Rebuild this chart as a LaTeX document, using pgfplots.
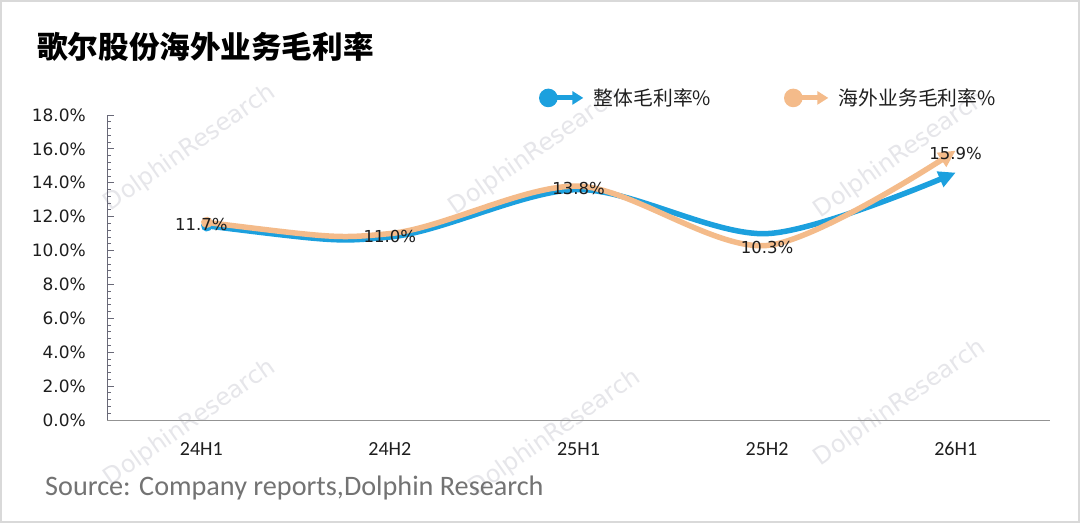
\documentclass[border=0pt]{standalone}
\usepackage{fontspec}
\setmainfont{DejaVu Sans}
\newfontfamily\cjk{Noto Sans CJK SC}
\newfontfamily\carlito{Carlito}
\usepackage{pgfplots}
\pgfplotsset{compat=1.18}
\usetikzlibrary{arrows.meta}
\definecolor{cblue}{RGB}{28,160,222}
\definecolor{corange}{RGB}{244,187,138}
\definecolor{wm}{RGB}{230,230,234}
\definecolor{axgray}{RGB}{105,105,120}
\definecolor{txt}{RGB}{30,30,30}
\definecolor{srcgray}{RGB}{115,115,115}
\begin{document}
\begin{tikzpicture}
\path[use as bounding box] (0pt,0pt) rectangle (1080pt,523pt);
\fill[white] (0pt,0pt) rectangle (1080pt,523pt);
\draw[gray!30, line width=2pt] (1pt,1pt) rectangle (1079pt,522pt);
\foreach \x/\y in {190/375, 535/371, 900/368, 190/100, 555/90, 900/120}
  \node[rotate=35, text=wm, font=\fontsize{24}{24}\selectfont] at (\x pt,\y pt) {DolphinResearch};
\node[anchor=west, inner sep=0pt] at (37pt,476pt) {\cjk\bfseries\fontsize{30.6}{32}\selectfont 歌尔股份海外业务毛利率};
\node[anchor=west, inner sep=0pt, text=srcgray] at (45pt,35pt) {\carlito\fontsize{28.2}{30}\selectfont Source: Company reports,Dolphin Research};
\begin{axis}[
  at={(201.3pt,103pt)}, anchor=origin,
  scale only axis, width=943pt, height=305pt,
  xmin=-0.5, xmax=4.5, ymin=0, ymax=18,
  axis lines=left, axis line style={-},
  x axis line style={draw=gray!85, line width=1pt},
  y axis line style={draw=axgray, line width=1pt},
  xtick={0,1,2,3,4}, xticklabels={24H1,24H2,25H1,25H2,26H1},
  x tick style={draw=none},
  ytick={0,2,4,6,8,10,12,14,16,18},
  yticklabels={0.0\%,2.0\%,4.0\%,6.0\%,8.0\%,10.0\%,12.0\%,14.0\%,16.0\%,18.0\%},
  minor y tick num=4,
  tick align=inside,
  y tick style={draw=axgray, line width=0.8pt},
  major tick length=7pt, minor tick length=4pt,
  yticklabel style={font=\fontsize{17}{17}\selectfont, text=txt, anchor=east, inner sep=0pt, xshift=-21pt},
  xticklabel style={font=\carlito\fontsize{20}{20}\selectfont, text=txt, anchor=center, inner sep=0pt, yshift=-29pt},
  clip=false,
  legend columns=2,
  legend style={draw=none, fill=none, at={(0.458,1.056)}, anchor=west, inner sep=0pt,
    font=\cjk\fontsize{19.8}{20}\selectfont, text=txt,
    /tikz/every odd column/.append style={column sep=6pt},
    /tikz/every even column/.append style={column sep=71pt}},
  legend cell align=left,
  legend image code/.code={
    \draw[#1, line width=5pt, -{Triangle[length=11pt,width=13pt]}] (0pt,0pt) -- (35pt,0pt);
    \fill[#1] (0pt,0pt) circle (6.5pt);},
]
\addplot[cblue, line width=5.5pt, smooth, {Circle[length=11pt]}-{Triangle[length=17pt,width=16pt]}]
  coordinates {(0,11.5) (1,10.8) (2,13.6) (3,11.0) (4,14.6)};
\addlegendentry{整体毛利率\%}
\addplot[corange, line width=5.5pt, smooth, {Circle[length=11pt]}-{Triangle[length=17pt,width=16pt]}]
  coordinates {(0,11.7) (1,11.0) (2,13.8) (3,10.3) (4,15.9)};
\addlegendentry{海外业务毛利率\%}
\addplot[draw=none, mark=none, forget plot, nodes near coords, point meta=explicit symbolic,
  nodes near coords style={anchor=center, yshift=-2.5pt, inner sep=0pt, text=txt, font=\fontsize{16.5}{17}\selectfont}]
  coordinates {(0,11.7)[11.7\%] (1,11.0)[11.0\%] (2,13.8)[13.8\%] (3,10.3)[10.3\%] (4,15.9)[15.9\%]};
\end{axis}
\end{tikzpicture}
\end{document}
